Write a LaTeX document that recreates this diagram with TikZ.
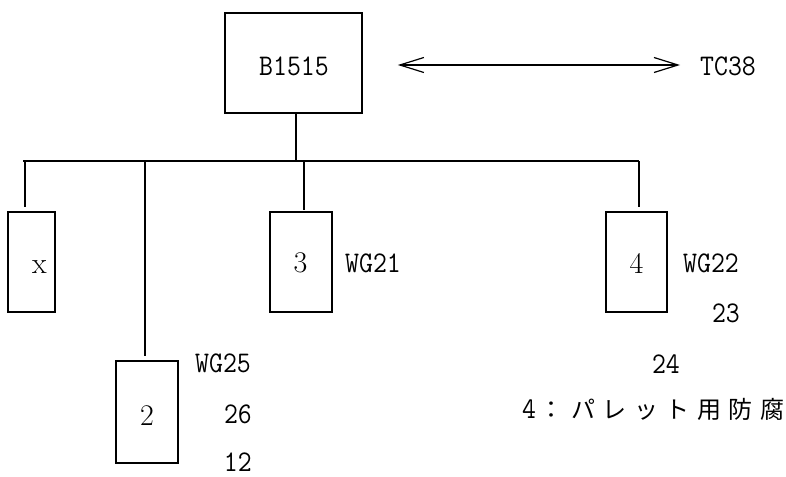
\documentclass[tikz,border=0pt]{standalone}
\usepackage{fontspec}
\usepackage{graphicx}
\newfontfamily\wgfont[FakeStretch=0.9]{Latin Modern Mono}
\newfontfamily\cjk{Noto Sans CJK JP}
\usetikzlibrary{arrows.meta}
\newcommand\jc[1]{\makebox[31.5pt]{#1}}
\tikzset{
  box/.style={draw, line width=1.7pt, inner sep=0pt},
  conn/.style={line width=1.1pt},
  lbl/.style={inner sep=0pt, font=\wgfont\fontsize{30}{32}\selectfont},
  numf/.style={inner sep=0pt, font=\fontsize{30}{32}\selectfont},
  dbl/.style={line width=1.2pt, {Straight Barb[length=24pt,width=15pt]}-{Straight Barb[length=24pt,width=15pt]}},
}
\begin{document}
\begin{tikzpicture}[x=1pt,y=-1pt]
\useasboundingbox (0,0) rectangle (786,476);
% boxes
\node[box, minimum width=137pt, minimum height=100pt] (b1515) at (293.5,63) {};
\node[box, minimum width=47pt, minimum height=100pt] (bx) at (31.5,262) {};
\node[box, minimum width=62pt, minimum height=100pt] (b3) at (301,262) {};
\node[box, minimum width=61pt, minimum height=100pt] (b4) at (636.5,262) {};
\node[box, minimum width=62pt, minimum height=102pt] (b2) at (147,412) {};
% labels
\node[lbl, anchor=base] (t1515) at (294,76) {B1515};
\node[lbl, anchor=base west] (tc) at (700,76) {TC38};
\node[numf, anchor=base] (lx) at (39.5,273) {x};
\node[numf, anchor=base] (l3) at (300.5,272.5) {3};
\node[lbl, anchor=base west] (w21) at (345,272.5) {WG21};
\node[numf, anchor=base] (l4) at (636.5,273) {4};
\node[lbl, anchor=base west] (w22) at (683,272.5) {WG22};
\node[lbl, anchor=base east] (n23) at (740,322) {23};
\node[lbl, anchor=base east] (n24) at (680,373) {24};
\node[lbl, anchor=base west] (w25) at (195,372) {WG25};
\node[lbl, anchor=base east] (n26) at (252,423) {26};
\node[lbl, anchor=base east] (n12) at (252,471) {12};
\node[numf, anchor=base] (l2) at (147,425) {2};
\node[inner sep=0pt, anchor=base west] (note) at (522,418)
  {{\wgfont\fontsize{30}{32}\selectfont 4}{\cjk\fontsize{24}{26}\selectfont\jc{：}\jc{パ}\jc{レ}\jc{ッ}\jc{ト}\jc{用}\jc{防}\hspace{3.75pt}腐}};
% bus
\coordinate (busL) at (23,161);
\coordinate (busR) at (639,161);
\coordinate (jm) at (296,161);
\coordinate (jx) at (25,161);
\coordinate (j2) at (145,161);
\coordinate (j3) at (304,161);
\draw[conn] (jm |- b1515.south) -- (jm);
\draw[conn] (busL) -- (busR);
\draw[conn, shorten >=4pt] (jx) -- (jx |- bx.north);
\draw[conn, shorten >=4pt] (j2) -- (j2 |- b2.north);
\draw[conn, shorten >=1pt] (j3) -- (j3 |- b3.north);
\draw[conn, shorten >=4pt] (busR) -- (busR |- b4.north);
% double arrow
\draw[dbl, shorten <=35pt, shorten >=20pt] (b1515.east |- 0,65) -- (tc.west |- 0,65);
\end{tikzpicture}
\end{document}
